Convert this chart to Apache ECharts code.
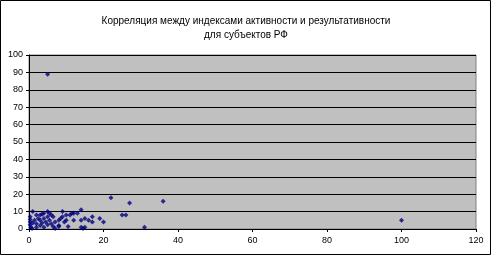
<!DOCTYPE html>
<html><head><meta charset="utf-8">
<script src="https://cdn.jsdelivr.net/npm/echarts@6/dist/echarts.min.js"></script>
<style>html,body{margin:0;padding:0;background:#fff}#c{width:492px;height:256px}</style>
</head><body><div id="c"></div>
<script>
const titleLines = ['Корреляция между индексами активности и результативности', 'для субъектов РФ'];
const xTicks = [0, 20, 40, 60, 80, 100, 120];
const yTicks = [0, 10, 20, 30, 40, 50, 60, 70, 80, 90, 100];
// индекс активности (x) и индекс результативности (y)
const activity = [5, 100, 36, 22, 27, 25, 26, 31,
  20, 19, 17, 17, 16, 15, 14, 14, 13, 12, 12, 14, 15, 14.5,
  1, 0.3, 0.3, 0.3, 0.3, 0.5, 0.8, 2, 2, 2, 2.5, 3, 3, 3, 3.5, 3.5, 4, 4, 4.5,
  5, 5, 5, 5.5, 5.5, 6, 6, 6.5, 7, 7, 8, 8, 8, 8.5, 9, 9, 9.5, 10, 10, 10.5, 11, 11.5,
  1.5, 1, 4, 6.5];
const effectiveness = [89, 5, 16, 18, 15, 8, 8, 1,
  4, 6, 7, 4, 5, 6, 5, 11, 9, 9, 5, 1, 1, 0.3,
  10, 7, 5.5, 4, 2.5, 1, 0.3, 8, 3, 1, 6, 8, 5, 2, 8.5, 3.5, 6, 1, 4,
  10, 7, 2.5, 9, 5, 8, 3, 7, 0.3, 4, 2, 5, 1.5, 6, 10, 7, 4, 5, 8, 1.5, 8, 9,
  5, 3.5, 9, 1.5];
const points = activity.map((x, i) => [x, effectiveness[i]]);
const FONT = 'Liberation Sans';
const chart = echarts.init(document.getElementById('c'), null, {renderer: 'canvas'});
chart.setOption({
  animation: false,
  backgroundColor: '#fff',
  title: {
    text: titleLines.join('\n'), left: 'center', top: 9,
    textStyle: {fontFamily: FONT, fontSize: 10, fontWeight: 'normal', color: '#000', lineHeight: 14}
  },
  graphic: [{type: 'rect', shape: {x: 0.5, y: 0.5, width: 490, height: 254},
    style: {fill: 'none', stroke: '#000', lineWidth: 1}, silent: true, z: 100}],
  grid: {left: 29, right: 16, top: 55, bottom: 27, show: true,
    backgroundColor: '#C0C0C0', borderColor: '#808080', borderWidth: 1},
  xAxis: {
    type: 'value', min: 0, max: 120, interval: 20,
    axisLine: {show: true, onZero: false, lineStyle: {color: '#000'}},
    axisTick: {show: true, length: 3, lineStyle: {color: '#000'}},
    axisLabel: {fontFamily: FONT, fontSize: 9, color: '#000', margin: 7},
    splitLine: {show: false}
  },
  yAxis: {
    type: 'value', min: 0, max: 100, interval: 10,
    axisLine: {show: true, onZero: false, lineStyle: {color: '#000'}},
    axisTick: {show: true, length: 3, lineStyle: {color: '#000'}},
    axisLabel: {fontFamily: FONT, fontSize: 9, color: '#000', margin: 6},
    splitLine: {show: true, lineStyle: {color: '#000', width: 1}}
  },
  series: [{
    type: 'scatter', data: points, symbol: 'diamond', symbolSize: 5,
    itemStyle: {color: '#000080'}
  }]
});
</script></body></html>
